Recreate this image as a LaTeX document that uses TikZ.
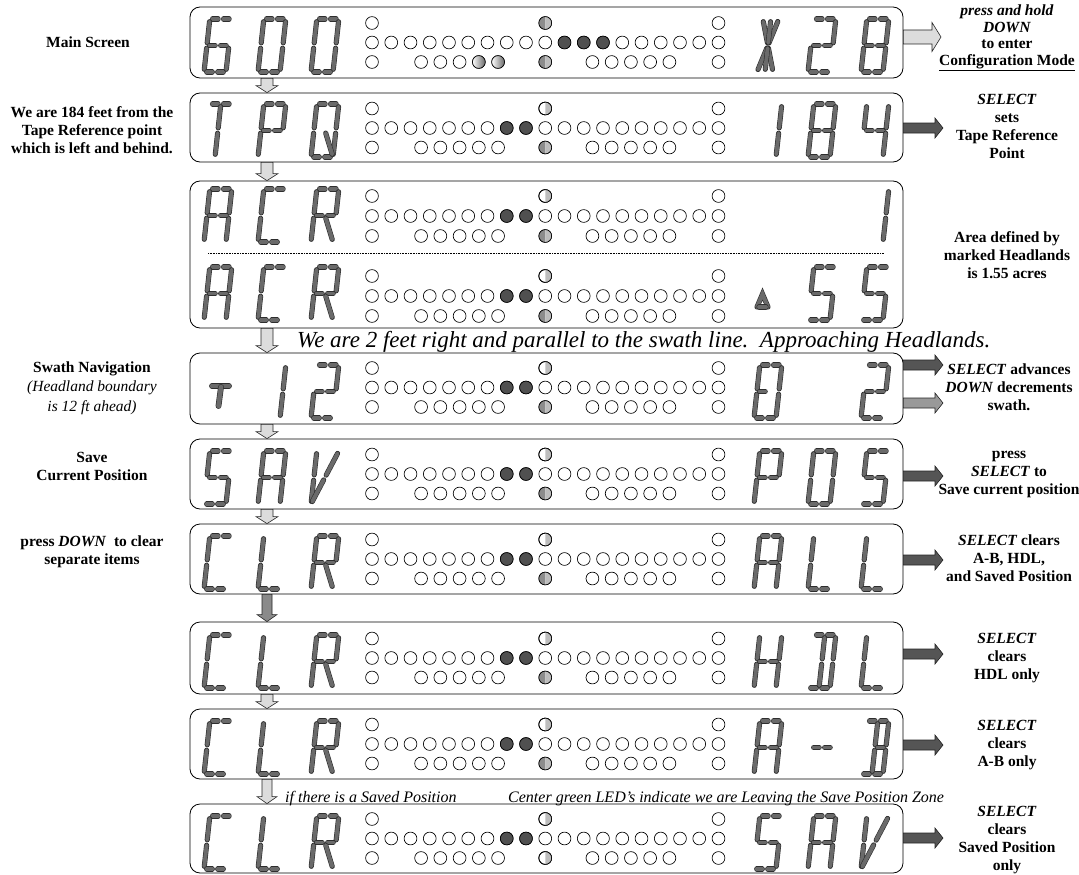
\documentclass[tikz,border=0pt]{standalone}
\usepackage{fontspec}
\setmainfont{Liberation Serif}
\usetikzlibrary{calc}
\definecolor{segfill}{HTML}{6A6A6A}
\definecolor{segline}{HTML}{2E2E2E}
\definecolor{ledon}{HTML}{505050}
\definecolor{gdark}{HTML}{8C8C8C}
\definecolor{glight}{HTML}{BDBDBD}
\definecolor{arrdark}{HTML}{555555}
\definecolor{arrlight}{HTML}{DCDCDC}
\definecolor{arrmid}{HTML}{999999}
\definecolor{arrmid2}{HTML}{8A8A8A}
\tikzset{
  panel/.style={draw=black, line width=0.8pt, rounded corners=10pt, minimum width=713pt, inner sep=0pt, fill=white},
  seg/.style={draw=segline, line width=0.6pt, double=segfill, double distance=3.9pt, line cap=round, shorten <=2.7pt, shorten >=2.7pt},
  segs/.style={draw=segline, line width=0.6pt, double=segfill, double distance=3.9pt, line cap=round},
  led/.style={draw=black, line width=0.65pt, fill=white},
  ledfill/.style={draw=black, line width=0.65pt, fill=ledon},
  blk/.style={draw=black!85, line width=0.6pt},
  lbl/.style={align=center, font=\bfseries\fontsize{15.5}{18}\selectfont, inner sep=0pt},
  note/.style={font=\itshape\fontsize{16}{19}\selectfont, inner sep=0pt, anchor=west},
}
\def\segW{22}\def\segH{53}\def\segS{0.11}
\newcommand\segpt[2]{({\segX+(#1)*\segW+(#2)*\segH*\segS},{\segY-(#2)*\segH})}
\newcommand\SGta{\draw[seg] \segpt{0}{1} -- \segpt{.5}{1};}
\newcommand\SGtb{\draw[seg] \segpt{.5}{1} -- \segpt{1}{1};}
\newcommand\SGma{\draw[seg] \segpt{0}{.5} -- \segpt{.5}{.5};}
\newcommand\SGmb{\draw[seg] \segpt{.5}{.5} -- \segpt{1}{.5};}
\newcommand\SGba{\draw[seg] \segpt{0}{0} -- \segpt{.5}{0};}
\newcommand\SGbb{\draw[seg] \segpt{.5}{0} -- \segpt{1}{0};}
\newcommand\SGul{\draw[seg] \segpt{0}{1} -- \segpt{0}{.5};}
\newcommand\SGll{\draw[seg] \segpt{0}{.5} -- \segpt{0}{0};}
\newcommand\SGur{\draw[seg] \segpt{1}{1} -- \segpt{1}{.5};}
\newcommand\SGlr{\draw[seg] \segpt{1}{.5} -- \segpt{1}{0};}
\newcommand\SGci{\draw[seg] \segpt{.5}{1} -- \segpt{.5}{.5};}
\newcommand\SGcl{\draw[seg] \segpt{.5}{.5} -- \segpt{.5}{0};}
\newcommand\SGdh{\draw[seg] \segpt{0}{1} -- \segpt{.5}{.5};}
\newcommand\SGdj{\draw[seg] \segpt{1}{1} -- \segpt{.5}{.5};}
\newcommand\SGdk{\draw[seg] \segpt{.5}{.5} -- \segpt{0}{0};}
\newcommand\SGdm{\draw[seg] \segpt{.5}{.5} -- \segpt{1}{0};}
\newcommand\dch[3]{\def\segX{#1}\def\segY{#2}\foreach \sg in #3 {\csname SG\sg\endcsname}}
\def\Lsix{ta,tb,ul,ll,ba,bb,lr,ma,mb}
\def\Lzero{ta,tb,ur,lr,ba,bb,ll,ul}
\def\Lstar{dh,dj,dk,dm,ci,cl}
\def\Ltwo{ta,tb,ur,ma,mb,ll,ba,bb}
\def\Leight{ta,tb,ur,lr,ba,bb,ll,ul,ma,mb}
\def\LT{ta,tb,ci,cl}
\def\LP{ta,tb,ul,ll,ur,ma,mb}
\def\LQ{ta,tb,ur,lr,ba,bb,ll,ul,dm}
\def\Lone{ur,lr}
\def\Lfour{ul,ma,mb,ur,lr}
\def\LA{ta,tb,ul,ll,ur,lr,ma,mb}
\def\LC{ta,tb,ul,ll,ba,bb}
\def\LR{ta,tb,ul,ll,ur,ma,mb,dm}
\def\Lfive{ta,tb,ul,ma,mb,lr,ba,bb}
\def\LE{ta,tb,ul,ll,ur,lr,ba,bb,ma}
\def\LV{ul,ll,dk,dj}
\def\LL{ul,ll,ba,bb}
\def\LH{ul,ll,ur,lr,ma,mb}
\def\LD{ta,tb,ur,lr,ba,bb,ci,cl}
\def\Ldash{ma,mb}
\def\LB{ta,tb,ur,lr,ba,bb,ci,cl,mb}
\newcommand\ledset[3]{%
  \foreach \i in {0,...,18} {\draw[led] ({372+\i*19.25},#1) circle[radius=6.4];}
  \foreach \i in {0,9,18} {\draw[led] ({372+\i*19.25},{#1-#2}) circle[radius=6.4];}
  \foreach \i in {0,2.55,3.55,4.55,5.55,6.55,9,11.45,12.45,13.45,14.45,15.45,18} {\draw[led] ({372+\i*19.25},{#1+#2}) circle[radius=6.4];}
  \foreach \i in {#3} {\draw[ledfill] ({372+\i*19.25},#1) circle[radius=6.4];}
}
\newcommand\ledtwo[2]{%
  \fill[gdark] (#1,{#2-6.4}) arc[start angle=-90,end angle=-270,radius=6.4] -- cycle;
  \fill[glight] (#1,{#2-6.4}) arc[start angle=-90,end angle=90,radius=6.4] -- cycle;
  \draw[led,fill=none] (#1,#2) circle[radius=6.4];}
\newcommand\ledhalf[2]{%
  \draw[led] (#1,#2) circle[radius=6.4];
  \fill[glight] (#1,{#2-6.4}) arc[start angle=-90,end angle=90,radius=6.4] -- cycle;
  \draw[led,fill=none] (#1,#2) circle[radius=6.4];}
\newcommand\downblk[4]{%
  \draw[blk, fill=#3] let \p1=#1, \p2=#2 in
    (\x1-#4pt,\y1) -- (\x1+#4pt,\y1) -- (\x1+#4pt,\y2+7pt) -- (\x1+#4pt+5pt,\y2+7pt)
    -- (\x1,\y2) -- (\x1-#4pt-5pt,\y2+7pt) -- (\x1-#4pt,\y2+7pt) -- cycle;}
\newcommand\rightblk[4]{%
  \draw[blk, fill=#3] let \p1=#1, \p2=#2 in
    (\x1,\y1+#4pt) -- (\x2-8pt,\y1+#4pt) -- (\x2-8pt,\y1+2*#4pt) -- (\x2,\y1)
    -- (\x2-8pt,\y1-2*#4pt) -- (\x2-8pt,\y1-#4pt) -- (\x1,\y1-#4pt) -- cycle;}
\def\cxl{545.25}
\begin{document}
\begin{tikzpicture}[x=1pt,y=-1pt]
\useasboundingbox (0,0) rectangle (1079,875);
% panels
\node[panel, minimum height=71pt] (p1) at (546.5,42.5) {};
\node[panel, minimum height=69pt] (p2) at (546.5,127.5) {};
\node[panel, minimum height=147pt] (p3) at (546.5,254.5) {};
\node[panel, minimum height=71pt] (p4) at (546.5,388.5) {};
\node[panel, minimum height=70pt] (p5) at (546.5,474) {};
\node[panel, minimum height=70pt] (p6) at (546.5,559) {};
\node[panel, minimum height=72pt] (p7) at (546.5,658) {};
\node[panel, minimum height=70pt] (p8) at (546.5,744) {};
\node[panel, minimum height=69pt] (p9) at (546.5,838.5) {};
\draw[line width=0.6pt, dash pattern=on 0.8pt off 0.8pt] (208,253) -- (884,253);
% panel 1
\ledset{42.5}{19.5}{10,11,12}
\ledtwo{\cxl}{23}\ledtwo{\cxl}{62}
\foreach \i in {5.55,6.55} {\shade[left color=white,right color=black!60] ({372+\i*19.25},62) circle[radius=6.4]; \draw[led,fill=none] ({372+\i*19.25},62) circle[radius=6.4];}
\dch{204}{72}{\Lsix}\dch{258}{72}{\Lzero}\dch{311}{72}{\Lzero}
{\def\segW{16}\dch{757}{72}{\Lstar}}
\dch{808}{72}{\Ltwo}\dch{861}{72}{\Leight}
% panel 2
\ledset{128}{19.5}{7,8}
\ledhalf{\cxl}{108.5}\ledtwo{\cxl}{147.5}
\dch{204}{157}{\LT}\dch{258}{157}{\LP}\dch{311}{157}{\LQ}
\dch{754}{157}{\Lone}\dch{808}{157}{\Leight}\dch{861}{157}{\Lfour}
% panel 3 upper
\ledset{216}{20}{7,8}
\ledhalf{\cxl}{196}\ledtwo{\cxl}{236}
\dch{204}{242}{\LA}\dch{258}{242}{\LC}\dch{311}{242}{\LR}
\dch{861}{242}{\Lone}
% panel 3 lower
\ledset{296}{20}{7,8}
\ledhalf{\cxl}{276}\ledtwo{\cxl}{316}
\dch{204}{320}{\LA}\dch{258}{320}{\LC}\dch{311}{320}{\LR}
\draw[segs] (757,307) -- (762.5,294) -- (768,307);
\draw[segs] (759,307) -- (766,307);
\dch{808}{320}{\Lfive}\dch{861}{320}{\Lfive}
% panel 4
\ledset{387.5}{19.5}{7,8}
\ledhalf{\cxl}{368}\ledtwo{\cxl}{407}
\draw[segs, double distance=4.6pt] (212,386) -- (229,386);
\draw[segs, double distance=4.6pt] (221,387) -- (218.5,406);
\dch{258}{418}{\Lone}\dch{311}{418}{\Ltwo}
\dch{754}{418}{\LE}\dch{861}{418}{\Ltwo}
% panel 5
\ledset{474}{19.5}{7,8}
\ledhalf{\cxl}{454.5}\ledtwo{\cxl}{493.5}
\dch{204}{504}{\Lfive}\dch{258}{504}{\LA}\dch{311}{504}{\LV}
\dch{754}{504}{\LP}\dch{808}{504}{\Lzero}\dch{861}{504}{\Lfive}
% panel 6
\ledset{559}{19.5}{7,8}
\ledhalf{\cxl}{539.5}\ledtwo{\cxl}{578.5}
\dch{204}{589}{\LC}\dch{258}{589}{\LL}\dch{311}{589}{\LR}
\dch{754}{589}{\LA}\dch{808}{589}{\LL}\dch{861}{589}{\LL}
% panel 7
\ledset{658}{19.5}{7,8}
\ledhalf{\cxl}{638.5}\ledtwo{\cxl}{677.5}
\dch{204}{688}{\LC}\dch{258}{688}{\LL}\dch{311}{688}{\LR}
\dch{754}{688}{\LH}\dch{808}{688}{\LD}\dch{861}{688}{\LL}
% panel 8
\ledset{744}{19.5}{7,8}
\ledhalf{\cxl}{724.5}\ledtwo{\cxl}{763.5}
\dch{204}{774}{\LC}\dch{258}{774}{\LL}\dch{311}{774}{\LR}
\dch{754}{774}{\LA}\dch{808}{774}{\Ldash}\dch{861}{774}{\LB}
% panel 9
\ledset{838.5}{19.5}{7,8}
\ledhalf{\cxl}{819}\ledhalf{\cxl}{858}
\dch{204}{869}{\LC}\dch{258}{869}{\LL}\dch{311}{869}{\LR}
\dch{754}{869}{\Lfive}\dch{808}{869}{\LA}\dch{861}{869}{\LV}
% down arrows
\coordinate (dax) at (267,0);
\downblk{(p1.south -| dax)}{(p2.north -| dax)}{arrlight}{6}
\downblk{(p2.south -| dax)}{(p3.north -| dax)}{arrlight}{6}
\downblk{(p3.south -| dax)}{(p4.north -| dax)}{arrlight}{6}
\downblk{(p4.south -| dax)}{(p5.north -| dax)}{arrlight}{6}
\downblk{(p5.south -| dax)}{(p6.north -| dax)}{arrlight}{6}
\downblk{(p6.south -| dax)}{(p7.north -| dax)}{arrmid2}{5}
\downblk{(p7.south -| dax)}{(p8.north -| dax)}{arrlight}{6}
\downblk{(p8.south -| dax)}{(p9.north -| dax)}{arrlight}{5}
% right arrows
\coordinate (a1) at (941,37);
\coordinate (a2) at (943,128);
\coordinate (a4a) at (943,365);
\coordinate (a4b) at (943,403);
\coordinate (a5) at (943,476);
\coordinate (a6) at (943,560);
\coordinate (a7) at (943,654);
\coordinate (a8) at (943,745);
\coordinate (a9) at (943,838);
\draw[blk, fill=arrlight] let \p1=(p1.east |- a1), \p2=(a1) in
  (\x1,\y1+7pt) -- (\x2-9pt,\y1+7pt) -- (\x2-9pt,\y1+14.5pt) -- (\x2,\y1)
  -- (\x2-9pt,\y1-14.5pt) -- (\x2-9pt,\y1-7pt) -- (\x1,\y1-7pt) -- cycle;
\rightblk{(p2.east |- a2)}{(a2)}{arrdark}{5}
\rightblk{(p4.east |- a4a)}{(a4a)}{arrdark}{5}
\rightblk{(p4.east |- a4b)}{(a4b)}{arrmid}{5}
\rightblk{(p5.east |- a5)}{(a5)}{arrdark}{5}
\rightblk{(p6.east |- a6)}{(a6)}{arrdark}{5}
\rightblk{(p7.east |- a7)}{(a7)}{arrdark}{5}
\rightblk{(p8.east |- a8)}{(a8)}{arrdark}{5}
\rightblk{(p9.east |- a9)}{(a9)}{arrdark}{5}
% left labels
\node[lbl] (l1) at (88,42) {Main Screen};
\node[lbl] (l2) at (92,130) {We are 184 feet from the\\Tape Reference point\\which is left and behind.};
\node[lbl, font=\bfseries\fontsize{15.5}{19.5}\selectfont] (l4) at (92,388) {Swath Navigation\\\mdseries\itshape (Headland boundary\\\mdseries\itshape is 12 ft ahead)};
\node[lbl] (l5) at (92,466) {Save\\Current Position};
\node[lbl] (l6) at (92,552) {press \textit{DOWN}\ \ to clear\\separate items};
% right labels
\node[lbl, font=\bfseries\fontsize{15.5}{16.5}\selectfont] (r1) at (1007,38) {\textit{press and hold}\\\textit{DOWN}\\to enter\\\underline{Configuration Mode}};
\node[lbl] (r2) at (1007,126) {\textit{SELECT}\\sets\\Tape Reference\\Point};
\node[lbl] (r3) at (1007,255) {Area defined by\\marked Headlands\\is 1.55 acres};
\node[lbl] (r4) at (1009,387) {\textit{SELECT} advances\\\textit{DOWN} decrements\\swath.};
\node[lbl] (r5) at (1009,474) {press\\\textit{SELECT} to\\Save current position};
\node[lbl] (r6) at (1009,558) {\textit{SELECT} clears\\A-B, HDL,\\and Saved Position};
\node[lbl] (r7) at (1007,658) {\textit{SELECT}\\clears\\HDL only};
\node[lbl] (r8) at (1007,745) {\textit{SELECT}\\clears\\A-B only};
\node[lbl] (r9) at (1007,840) {\textit{SELECT}\\clears\\Saved Position\\only};
% italic notes
\node[note, font=\itshape\fontsize{23}{26}\selectfont] (t1) at (297,342) {We are 2 feet right and parallel to the swath line.\ \ Approaching Headlands.};
\node[note] (t2) at (285,799) {if there is a Saved Position};
\node[note] (t3) at (508,799) {Center green LED's indicate we are Leaving the Save Position Zone};
\end{tikzpicture}
\end{document}
